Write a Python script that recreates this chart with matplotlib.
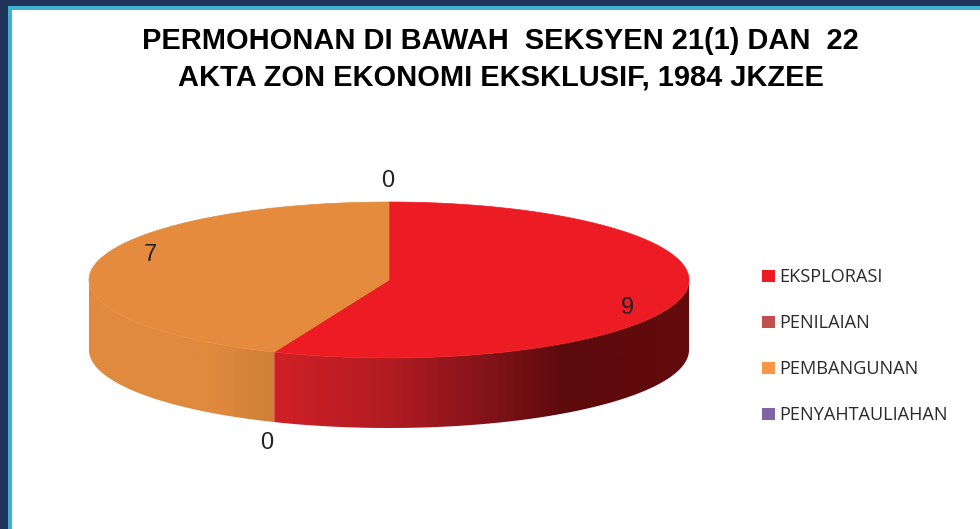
import matplotlib
matplotlib.use("Agg")
import matplotlib.pyplot as plt
from matplotlib.colors import LinearSegmentedColormap
from matplotlib.patches import PathPatch, Polygon, Rectangle
from matplotlib.path import Path
import numpy as np

title_lines = ["PERMOHONAN DI BAWAH  SEKSYEN 21(1) DAN  22", "AKTA ZON EKONOMI EKSKLUSIF, 1984 JKZEE"]
categories = ["EKSPLORASI", "PENILAIAN", "PEMBANGUNAN", "PENYAHTAULIAHAN"]
values = [9, 0, 7, 0]

legend_colors = ["#ed1c24", "#c0504d", "#f79646", "#8064a2"]
top_colors = ["#ed1c24", "#c0504d", "#e58b3e", "#8064a2"]
side_stops = [
    [(0.0, "#640a0c"), (0.3, "#5c0a0c"), (0.5, "#85141a"), (0.72, "#b01c22"), (1.0, "#d02027")],
    [(0.0, "#c0504d"), (1.0, "#c0504d")],
    [(0.0, "#cf7f38"), (0.35, "#e08a3e"), (1.0, "#e08a3e")],
    [(0.0, "#8064a2"), (1.0, "#8064a2")],
]
label_positions = [(627, 308), (267, 443), (150, 255), (388, 181)]

# pie geometry in pixels
cx, cy = 389, 280
rx, ry = 300, 78
depth = 70


def rim(angles):
    # angles are clockwise from the top of the pie
    return cx + rx * np.sin(angles), cy - ry * np.cos(angles)


def draw_side(ax, start, end, stops):
    # only the front half of the rim can be seen
    a0 = max(start, np.pi / 2)
    a1 = min(end, 3 * np.pi / 2)
    if a1 <= a0:
        return
    angles = np.linspace(a0, a1, 120)
    x, y = rim(angles)
    pts = np.vstack([np.column_stack([x, y]), np.column_stack([x[::-1], y[::-1] + depth])])
    patch = Polygon(pts, closed=True, facecolor="none", edgecolor="none")
    ax.add_patch(patch)
    cmap = LinearSegmentedColormap.from_list("side", stops)
    gradient = np.linspace(1, 0, 256).reshape(1, -1)
    im = ax.imshow(gradient, cmap=cmap, vmin=0, vmax=1, aspect="auto",
                   extent=[x.min(), x.max(), y.max() + depth, y.min()], zorder=2)
    im.set_clip_path(patch)


def draw_top(ax, start, end, color):
    angles = np.linspace(start, end, 200)
    x, y = rim(angles)
    pts = np.vstack([[cx, cy], np.column_stack([x, y]), [cx, cy]])
    codes = [Path.MOVETO] + [Path.LINETO] * (len(pts) - 2) + [Path.CLOSEPOLY]
    ax.add_patch(PathPatch(Path(pts, codes), facecolor=color, edgecolor=color, linewidth=0.5, zorder=3))


fig = plt.figure(figsize=(9.8, 5.29), dpi=100)
ax = fig.add_axes([0, 0, 1, 1])
ax.axis("off")

# slide frame
ax.add_patch(Rectangle((0, 0), 980, 529, facecolor="#20345a", edgecolor="none", zorder=0))
ax.add_patch(Rectangle((8, 6), 972, 523, facecolor="#3fb0cf", edgecolor="none", zorder=0))
ax.add_patch(Rectangle((12, 10), 968, 519, facecolor="white", edgecolor="none", zorder=0))

total = sum(values)
start = 0.0
for i, value in enumerate(values):
    end = start + 2 * np.pi * value / total
    if value > 0:
        draw_side(ax, start, end, side_stops[i])
        draw_top(ax, start, end, top_colors[i])
    start = end

ax.set_xlim(0, 980)
ax.set_ylim(529, 0)

for line, y in zip(title_lines, [41, 77]):
    ax.text(500.5, y, line, ha="center", va="center", fontsize=20.9, fontweight="bold",
            family="Liberation Sans", color="#000000", zorder=5)

for value, (x, y) in zip(values, label_positions):
    ax.text(x, y, str(value), ha="center", va="center", fontsize=17,
            family="Liberation Sans", color="#222222", zorder=5)

for i, name in enumerate(categories):
    y = 276 + i * 46
    ax.add_patch(Rectangle((762, y - 6), 13, 12, facecolor=legend_colors[i], edgecolor="none", zorder=5))
    ax.text(779.5, y + 1, name, ha="left", va="center", fontsize=13.1,
            family="Open Sans", color="#2a2a2a", zorder=5)

fig.savefig("out.png", dpi=100)
